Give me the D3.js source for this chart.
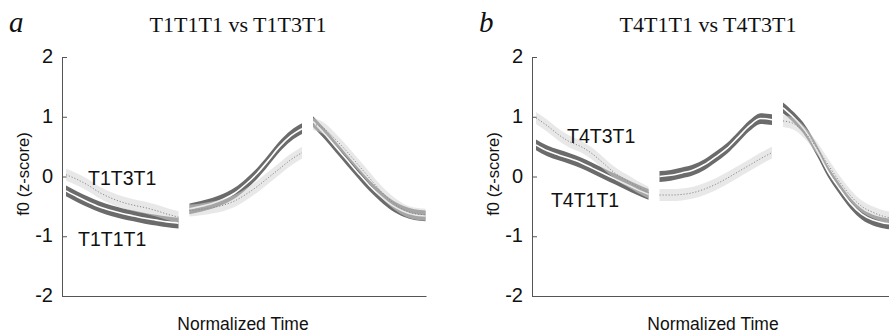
<!DOCTYPE html>
<html>
<head>
<meta charset="utf-8">
<script src="https://cdn.jsdelivr.net/npm/d3@7"></script>
<style>
  body { margin: 0; background: #fff; }
  svg { display: block; }
  .sans { font-family: "Liberation Sans", Arial, Helvetica, sans-serif; }
  .serif { font-family: "Liberation Serif", "Times New Roman", serif; }
</style>
</head>
<body>
<div class="chart"></div>
<script>
"use strict";

// y ticks and sampling points (normalized time within each syllable)
var yTicks = [2, 1, 0, -1, -2];
var sampleT = [0, 0.1, 0.2, 0.3, 0.4, 0.5, 0.6, 0.7, 0.8, 0.9, 1];

var titles = ["T1T1T1 vs T1T3T1", "T4T1T1 vs T4T3T1"];
var letters = ["a", "b"];

// mean f0 (z-score), one array per syllable
var a_T1T1T1 = [
  [-0.24, -0.34, -0.43, -0.51, -0.57, -0.62, -0.66, -0.70, -0.73, -0.76, -0.78],
  [-0.54, -0.50, -0.45, -0.38, -0.28, -0.13, 0.05, 0.27, 0.50, 0.68, 0.80],
  [0.92, 0.72, 0.50, 0.28, 0.06, -0.15, -0.33, -0.48, -0.58, -0.64, -0.66]
];
var a_T1T3T1 = [
  [0.03, -0.05, -0.15, -0.27, -0.36, -0.43, -0.48, -0.52, -0.57, -0.63, -0.68],
  [-0.57, -0.55, -0.52, -0.48, -0.41, -0.30, -0.17, -0.02, 0.13, 0.28, 0.40],
  [0.88, 0.80, 0.62, 0.42, 0.20, -0.02, -0.24, -0.42, -0.55, -0.62, -0.64]
];
var b_T4T1T1 = [
  [0.53, 0.43, 0.36, 0.30, 0.23, 0.14, 0.05, -0.04, -0.13, -0.22, -0.30],
  [0.00, 0.02, 0.06, 0.11, 0.20, 0.33, 0.47, 0.66, 0.85, 0.97, 0.95],
  [1.15, 0.98, 0.76, 0.44, 0.08, -0.20, -0.45, -0.63, -0.73, -0.78, -0.80]
];
var b_T4T3T1 = [
  [0.98, 0.85, 0.70, 0.58, 0.50, 0.38, 0.22, 0.06, -0.06, -0.17, -0.27],
  [-0.31, -0.31, -0.30, -0.27, -0.21, -0.13, -0.03, 0.08, 0.19, 0.30, 0.40],
  [0.93, 0.88, 0.72, 0.48, 0.20, -0.08, -0.32, -0.50, -0.60, -0.67, -0.70]
];

// confidence half widths
var ciDark = 0.09,
    ciLight = 0.1;

// in-plot labels: [text, time, f0]
var labelsA = [["T1T3T1", 0.178, -0.14], ["T1T1T1", 0.097, -1.16]];
var labelsB = [["T4T3T1", 0.251, 0.56], ["T4T1T1", 0.121, -0.51]];

var width = 889,
    height = 334;

var svg = d3.select(".chart")
          .append("svg")
          .attr("width", width)
          .attr("height", height);

function drawPanel(left, title, letter, dark, light, labels){

  var sylWidth = 0.911;   // each syllable spans this much of one unit

  var x = d3.scaleLinear()
      .domain([0, 2 + sylWidth])
      .range([left + 4, left + 363.5]);

  var y = d3.scaleLinear()
      .domain([-2, 2])
      .range([296, 57]);

  var g = svg.append("g");

  // x axis: plain line, no ticks
  g.append("g")
      .attr("transform", "translate(0," + y(-2) + ")")
      .call(d3.axisBottom(d3.scaleLinear().range([left, left + 364])).ticks(0).tickSizeOuter(0))
      .call(function(s){ s.select(".domain").attr("stroke", "#555"); });

  // y axis with inward ticks
  g.append("g")
      .attr("transform", "translate(" + left + ",0)")
      .call(d3.axisLeft(y).tickValues(yTicks)
            .tickFormat(function(d){ return String(d); })
            .tickSizeInner(-5).tickSizeOuter(0).tickPadding(9))
      .attr("font-family", "'Liberation Sans', Arial, Helvetica, sans-serif")
      .attr("font-size", 20)
      .call(function(s){
        s.select(".domain").attr("stroke", "#555");
        s.selectAll(".tick line").attr("stroke", "#555");
        s.selectAll(".tick text")
          .attr("fill", "#111")
          .attr("dy", "0.28em");
      });

  function pts(vals, i){
    return vals.map(function(v, k){ return { x: i + sampleT[k] * sylWidth, v: v }; });
  }

  var band = function(ci){
    return d3.area()
      .x(function(d){ return x(d.x); })
      .y0(function(d){ return y(d.v - ci); })
      .y1(function(d){ return y(d.v + ci); })
      .curve(d3.curveMonotoneX);
  };
  var line = d3.line()
      .x(function(d){ return x(d.x); })
      .y(function(d){ return y(d.v); })
      .curve(d3.curveMonotoneX);

  var curves = g.append("g");

  dark.forEach(function(vals, i){
    var p = pts(vals, i);
    curves.append("path").attr("d", band(ciDark)(p)).attr("fill", "#6b6b6b");
    curves.append("path").attr("d", line(p))
        .attr("fill", "none").attr("stroke", "#fff").attr("stroke-width", 1.6);
  });

  light.forEach(function(vals, i){
    var p = pts(vals, i);
    curves.append("path").attr("d", band(ciLight)(p))
        .attr("fill", "#d6d6d6").attr("fill-opacity", 0.55);
    curves.append("path").attr("d", line(p))
        .attr("fill", "none").attr("stroke", "#8a8a8a")
        .attr("stroke-width", 1).attr("stroke-dasharray", "1.2,1.8");
  });

  // series labels
  g.selectAll(".lab")
      .data(labels).enter()
      .append("text")
      .attr("class", "sans")
      .attr("x", function(d){ return x(d[1]); })
      .attr("y", function(d){ return y(d[2]); })
      .attr("font-size", "19.5px")
      .attr("fill", "#111")
      .text(function(d){ return d[0]; });

  // title and panel letter
  g.append("text")
      .attr("class", "serif")
      .attr("x", left + 176)
      .attr("y", 32)
      .attr("text-anchor", "middle")
      .attr("font-size", "22px")
      .attr("fill", "#111")
      .text(title);

  g.append("text")
      .attr("class", "serif")
      .attr("x", left - 53)
      .attr("y", 32)
      .attr("font-size", "29px")
      .attr("font-style", "italic")
      .attr("fill", "#111")
      .text(letter);

  // axis labels
  g.append("text")
      .attr("class", "sans")
      .attr("transform", "translate(" + (left - 33) + ",174) rotate(-90)")
      .attr("text-anchor", "middle")
      .attr("font-size", "16.5px")
      .attr("fill", "#111")
      .text("f0 (z-score)");

  g.append("text")
      .attr("class", "sans")
      .attr("x", left + 181)
      .attr("y", 330)
      .attr("text-anchor", "middle")
      .attr("font-size", "17.5px")
      .attr("fill", "#111")
      .text("Normalized Time");
}

drawPanel(62, titles[0], letters[0], a_T1T1T1, a_T1T3T1, labelsA);
drawPanel(532, titles[1], letters[1], b_T4T1T1, b_T4T3T1, labelsB);
</script>
</body>
</html>
